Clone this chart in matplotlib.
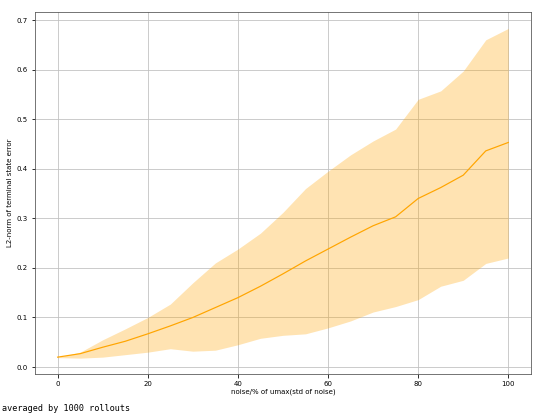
import matplotlib
matplotlib.use('Agg')
import matplotlib.pyplot as plt

# noise level in % of umax
noise = [0, 5, 10, 15, 20, 25, 30, 35, 40, 45, 50, 55, 60, 65, 70, 75, 80, 85, 90, 95, 100]

# mean L2-norm of terminal state error
err_mean = [0.020, 0.027, 0.040, 0.052, 0.067, 0.083, 0.100, 0.120, 0.140, 0.163, 0.188,
            0.214, 0.238, 0.262, 0.285, 0.303, 0.340, 0.362, 0.387, 0.436, 0.453]
# upper / lower band
err_upper = [0.020, 0.030, 0.055, 0.077, 0.100, 0.127, 0.170, 0.210, 0.238, 0.270, 0.312,
             0.360, 0.395, 0.428, 0.456, 0.480, 0.540, 0.557, 0.597, 0.660, 0.683]
err_lower = [0.019, 0.018, 0.020, 0.025, 0.030, 0.037, 0.032, 0.034, 0.045, 0.058, 0.064,
             0.067, 0.079, 0.093, 0.111, 0.122, 0.136, 0.163, 0.175, 0.209, 0.220]

fig = plt.figure(figsize=(7.5, 419 / 72), dpi=72)
ax = fig.add_axes([0.065, 0.1074, 0.918, 0.8632])

ax.plot(noise, err_mean, color='orange', lw=1.2)
ax.fill_between(noise, err_lower, err_upper, color='orange', alpha=0.3, lw=0)

ax.set_xlabel('noise/% of umax(std of noise)', fontsize=7, labelpad=2)
ax.set_ylabel('L2-norm of terminal state error', fontsize=7, labelpad=4)
ax.tick_params(labelsize=7)
ax.grid(True, color='#c0c0c0', lw=0.8)
ax.set_axisbelow(True)
ax.set_xlim(-5, 105)
ax.set_ylim(-0.014, 0.7155)
for s in ax.spines.values():
    s.set_color('#555555')

fig.text(0.004, 0.018, 'averaged by 1000 rollouts', family='DejaVu Sans Mono', fontsize=8.5)

fig.savefig('out.png', dpi=72)
